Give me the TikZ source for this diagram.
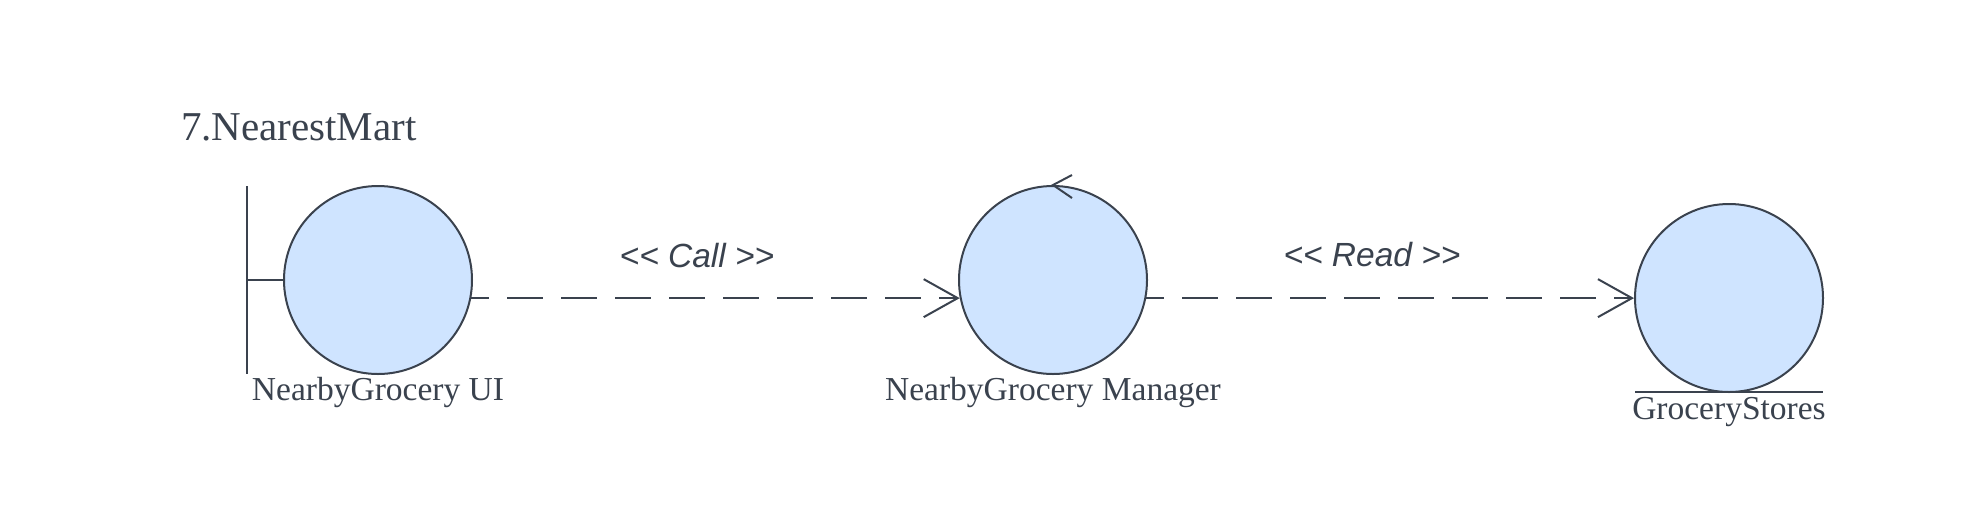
\documentclass[tikz,border=0pt]{standalone}
\usepackage{fontspec}
\setmainfont{Liberation Serif}
\setsansfont{Liberation Sans}
\usepackage{xcolor}
\usepackage{tikz}
\usetikzlibrary{arrows.meta,shapes}

\definecolor{robfill}{HTML}{CFE4FF}
\definecolor{robline}{HTML}{3A424E}

\begin{document}
\begin{tikzpicture}[x=1pt,y=-1pt,line width=2pt,draw=robline,text=robline]
 \tikzstyle{robust}=[circle,draw=robline,fill=robfill,minimum size=188pt,inner sep=0pt]
 \tikzstyle{depend}=[draw=robline,dash pattern=on 36pt off 18pt,dash phase=18pt,
   -{Straight Barb[length=34pt,width=38pt,line width=2pt]}]
 \tikzstyle{biglabel}=[font=\fontsize{33.5}{40}\selectfont,anchor=base,inner sep=0pt]
 \tikzstyle{stereo}=[font=\sffamily\itshape\fontsize{33.5}{40}\selectfont,anchor=base,inner sep=0pt]
 \useasboundingbox (0,0) rectangle (1973,504);

 \node (title) at (180,140) [anchor=base west,inner sep=0pt,font=\fontsize{41}{48}\selectfont] {7.NearestMart};

 % boundary
 \node (UI) at (378,280) [robust] {};
 \coordinate (UIbartop) at (247,186);
 \coordinate (UIbarbot) at (247,374);
 \coordinate (UIbarmid) at (247,280);
 \node (UIlabel) at (378,400) [biglabel] {NearbyGrocery UI};

 % control
 \node (Mgr) at (1053,280) [robust] {};
 \coordinate (Mgrwingup) at (1072,175);
 \coordinate (Mgrwingdown) at (1072,198);
 \node (Mgrlabel) at (1053,400) [biglabel] {NearbyGrocery Manager};

 % entity
 \node (Store) at (1729,298) [robust] {};
 \coordinate (Storeleft) at (1635,392);
 \coordinate (Storeright) at (1823,392);
 \node (Storelabel) at (1729,419) [biglabel] {GroceryStores};

 \node (Call) at (697,267) [stereo] {<\kern0pt< Call >\kern0pt>};
 \node (Read) at (1372,266) [stereo] {<\kern0pt< Read >\kern0pt>};

 \draw (UIbartop) -- (UIbarbot);
 \draw (UIbarmid) -- (UI.west);
 \draw (Mgrwingup) -- (Mgr.north) -- (Mgrwingdown);
 \draw (Storeleft) -- (Storeright);

 \draw [depend] (UI.-11) -- (Mgr.191);
 \draw [depend] (Mgr.-11) -- (Mgr.-11 -| Store.west);

\end{tikzpicture}
\end{document}
